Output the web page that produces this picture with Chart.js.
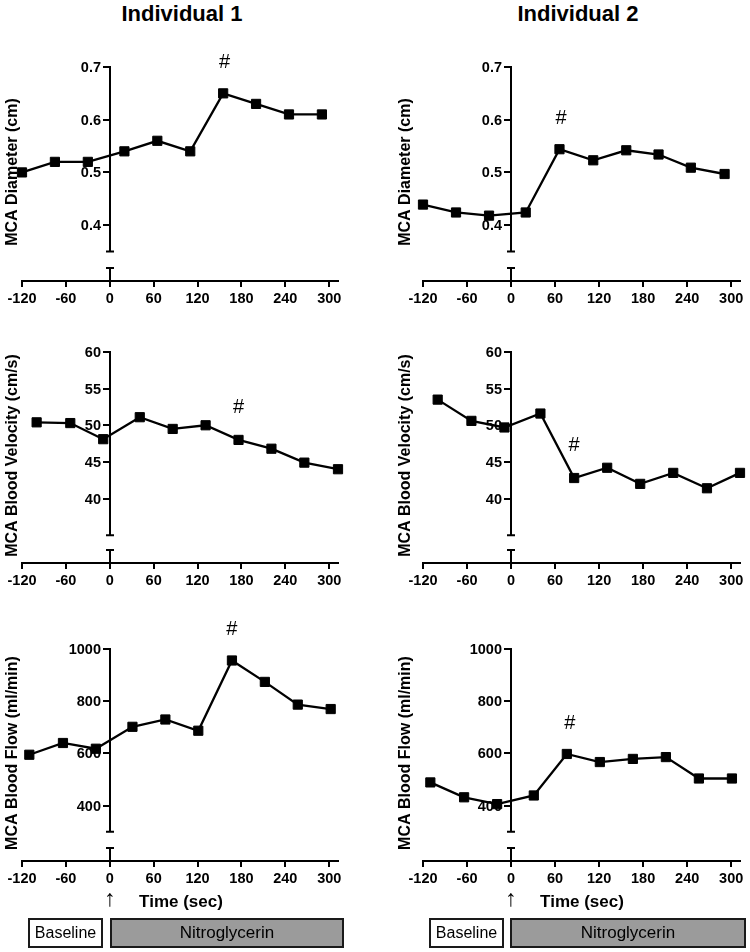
<!DOCTYPE html>
<html>
<head>
<meta charset="utf-8">
<script src="https://cdn.jsdelivr.net/npm/chart.js@4"></script>
<style>
  body { margin: 0; background: #fff; font-family: Arial, "Liberation Sans", sans-serif; }
  #page { position: relative; width: 750px; height: 952px; overflow: hidden; }
  canvas { position: absolute; }
  .title { position: absolute; top: 1px; font-size: 22px; font-weight: bold; width: 200px; text-align: center; }
  .xlab { position: absolute; top: 892px; font-size: 17px; font-weight: bold; width: 120px; text-align: center; }
  .arrow { position: absolute; top: 885px; font-size: 23px; width: 20px; text-align: center; }
  .box { position: absolute; top: 918px; height: 26px; border: 2px solid #1a1a1a; line-height: 26px; text-align: center; }
  .base { background: #fff; font-size: 16px; }
  .nitro { background: #9b9b9b; font-size: 17px; }
</style>
</head>
<body>
<div id="page">
  <div class="title" style="left:82px">Individual 1</div>
  <div class="title" style="left:478px">Individual 2</div>

  <canvas id="c1" width="375" height="280" style="left:0;top:31px"></canvas>
  <canvas id="c2" width="375" height="280" style="left:375px;top:31px"></canvas>
  <canvas id="c3" width="375" height="280" style="left:0;top:313px"></canvas>
  <canvas id="c4" width="375" height="280" style="left:375px;top:313px"></canvas>
  <canvas id="c5" width="375" height="280" style="left:0;top:611px"></canvas>
  <canvas id="c6" width="375" height="280" style="left:375px;top:611px"></canvas>

  <div class="arrow" style="left:100px">↑</div>
  <div class="xlab" style="left:121px">Time (sec)</div>
  <div class="box base" style="left:28px;width:71px">Baseline</div>
  <div class="box nitro" style="left:110px;width:230px">Nitroglycerin</div>

  <div class="arrow" style="left:501px">↑</div>
  <div class="xlab" style="left:522px">Time (sec)</div>
  <div class="box base" style="left:429px;width:71px">Baseline</div>
  <div class="box nitro" style="left:510px;width:232px">Nitroglycerin</div>
</div>

<script>
// time points (sec) and values
const timeD1 = [-120, -75, -30, 20, 65, 110, 155, 200, 245, 290];
const diam1 = [0.50, 0.52, 0.52, 0.54, 0.56, 0.54, 0.65, 0.63, 0.61, 0.61];
const timeD2 = [-120, -75, -30, 20, 66, 112, 157, 201, 245, 291];
const diam2 = [0.439, 0.424, 0.418, 0.424, 0.544, 0.523, 0.542, 0.534, 0.509, 0.497];

const timeV1 = [-100, -54, -9, 41, 86, 131, 176, 221, 266, 312];
const vel1 = [50.4, 50.3, 48.1, 51.1, 49.5, 50.0, 48.0, 46.8, 44.9, 44.0];
const timeV2 = [-100, -54, -9, 40, 86, 131, 176, 221, 267, 312];
const vel2 = [53.5, 50.6, 49.7, 51.6, 42.8, 44.2, 42.0, 43.5, 41.4, 43.5];

const timeF1 = [-110, -64, -19, 31, 76, 121, 167, 212, 257, 302];
const flow1 = [595, 640, 618, 702, 730, 687, 956, 874, 787, 770];
const timeF2 = [-110, -64, -19, 31, 76, 121, 166, 211, 256, 301];
const flow2 = [489, 432, 406, 439, 598, 567, 579, 586, 504, 504];

// x axis
const xTicks = [-120, -60, 0, 60, 120, 180, 240, 300];
const xMin = -120;
const xMax = 312;

// y axes, one per row
const yTitles = ['MCA Diameter (cm)', 'MCA Blood Velocity (cm/s)', 'MCA Blood Flow (ml/min)'];
const yTicks = [[0.4, 0.5, 0.6, 0.7], [40, 45, 50, 55, 60], [400, 600, 800, 1000]];
const yTickLabels = [['0.4', '0.5', '0.6', '0.7'], ['40', '45', '50', '55', '60'], ['400', '600', '800', '1000']];
const yMin = [0.294, 31.2, 188];
const yMax = [0.7, 60, 1000];
const yAxisEnd = [0.35, 35, 300];   // where the broken y axis stops

// "#" marks (time, value) per panel
const hashX = [157, 68, 176, 86, 167, 80];
const hashY = [0.709, 0.602, 52.4, 47.2, 1074, 713];

const fontFam = 'Arial, "Liberation Sans", sans-serif';
const tickFont = { family: fontFam, size: 14.5, weight: 'bold' };

const panels = [
  { id: 'c1', row: 0, t: timeD1, v: diam1, left: 22, right: 37, titleX: 13 },
  { id: 'c2', row: 0, t: timeD2, v: diam2, left: 48, right: 10, titleX: 31 },
  { id: 'c3', row: 1, t: timeV1, v: vel1, left: 22, right: 37, titleX: 13 },
  { id: 'c4', row: 1, t: timeV2, v: vel2, left: 48, right: 10, titleX: 31 },
  { id: 'c5', row: 2, t: timeF1, v: flow1, left: 22, right: 37, titleX: 13 },
  { id: 'c6', row: 2, t: timeF2, v: flow2, left: 48, right: 10, titleX: 31 },
];

const padTop = [36, 39, 38];

// broken y axis at t = 0, its tick labels, the # marks and the y title
const extras = {
  id: 'extras',
  afterDraw(chart, args, opts) {
    const { ctx, chartArea, scales: { x, y } } = chart;
    const r = opts.row;
    const x0 = Math.round(x.getPixelForValue(0));
    const yTop = y.getPixelForValue(yMax[r]);
    const yEnd = y.getPixelForValue(yAxisEnd[r]);
    const yb = chartArea.bottom;
    ctx.save();
    ctx.strokeStyle = '#000';
    ctx.lineWidth = 2;
    ctx.beginPath();
    ctx.moveTo(x0, yTop - 1);
    ctx.lineTo(x0, yEnd);
    ctx.moveTo(x0 - 4, yEnd);
    ctx.lineTo(x0 + 4, yEnd);
    ctx.moveTo(x0, yb);
    ctx.lineTo(x0, yb - 13);
    ctx.moveTo(x0 - 4, yb - 13);
    ctx.lineTo(x0 + 4, yb - 13);
    ctx.stroke();

    ctx.fillStyle = '#000';
    ctx.font = 'bold 14.5px ' + fontFam;
    ctx.textAlign = 'right';
    ctx.textBaseline = 'middle';
    yTicks[r].forEach((v, k) => {
      ctx.fillText(yTickLabels[r][k], x0 - 9, y.getPixelForValue(v) + 1);
    });

    ctx.font = '20px ' + fontFam;
    ctx.textAlign = 'center';
    ctx.fillText('#', x.getPixelForValue(hashX[opts.idx]), y.getPixelForValue(hashY[opts.idx]));

    ctx.font = 'bold 16px ' + fontFam;
    ctx.translate(opts.titleX, (chartArea.top + chartArea.bottom) / 2 - 2);
    ctx.rotate(-Math.PI / 2);
    ctx.fillText(yTitles[r], 0, 0);
    ctx.restore();
  }
};

panels.forEach((p, i) => {
  const r = p.row;
  new Chart(document.getElementById(p.id), {
    type: 'line',
    data: {
      datasets: [{
        data: p.t.map((t, k) => ({ x: t, y: p.v[k] })),
        borderColor: '#000',
        borderWidth: 2.3,
        pointStyle: 'rect',
        pointRadius: 6.5,
        pointBackgroundColor: '#000',
        pointBorderColor: '#000',
        pointBorderWidth: 1,
        tension: 0,
        clip: false
      }]
    },
    options: {
      responsive: false,
      animation: false,
      devicePixelRatio: 1,
      layout: { padding: { top: padTop[r], left: p.left, right: p.right, bottom: 0 } },
      plugins: {
        legend: { display: false },
        tooltip: { enabled: false },
        extras: { row: r, idx: i, titleX: p.titleX }
      },
      scales: {
        x: {
          type: 'linear',
          min: xMin,
          max: xMax,
          afterBuildTicks: s => { s.ticks = xTicks.map(v => ({ value: v })); },
          afterFit: s => { s.height = 30; },
          border: { display: true, width: 2, color: '#000' },
          grid: { drawOnChartArea: false, tickLength: 6, lineWidth: 2, color: '#000' },
          ticks: { font: tickFont, color: '#000', padding: 3, maxRotation: 0, autoSkip: false }
        },
        y: {
          type: 'linear',
          min: yMin[r],
          max: yMax[r],
          position: { x: 0 },
          afterBuildTicks: s => { s.ticks = yTicks[r].map(v => ({ value: v })); },
          border: { display: false },
          grid: { drawOnChartArea: false, tickLength: 7, lineWidth: 2, color: '#000' },
          ticks: { display: false }
        }
      }
    },
    plugins: [extras]
  });
});
</script>
</body>
</html>
